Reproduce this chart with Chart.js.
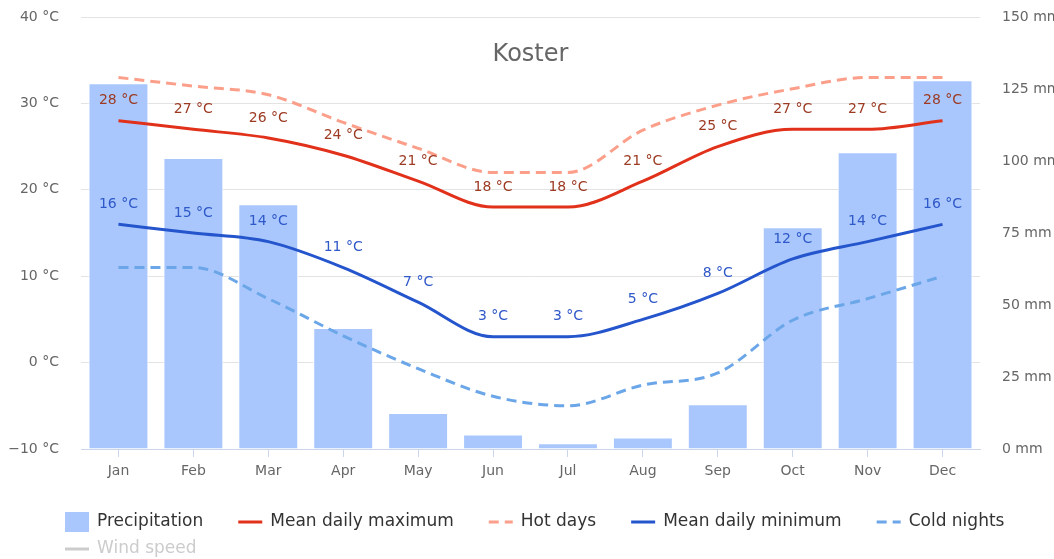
<!DOCTYPE html>
<html>
<head>
<meta charset="utf-8">
<script src="https://cdn.jsdelivr.net/npm/chart.js@4/dist/chart.umd.min.js"></script>
<style>
  html, body { margin: 0; padding: 0; background: #fff; }
  #wrap { width: 1054px; height: 559px; position: relative; }
</style>
</head>
<body>
<div id="wrap"><canvas id="canvas"></canvas></div>
<script>
var chartTitle = 'Koster';
var months = ['Jan', 'Feb', 'Mar', 'Apr', 'May', 'Jun', 'Jul', 'Aug', 'Sep', 'Oct', 'Nov', 'Dec'];
var precipitation = [127, 101, 85, 42, 12.5, 5, 2, 4, 15.5, 77, 103, 128];
var meanMax = [28, 27, 26, 24, 21, 18, 18, 21, 25, 27, 27, 28];
var hotDays = [33, 32, 31, 27.8, 24.8, 22, 22, 26.9, 29.8, 31.7, 33, 33];
var meanMin = [16, 15, 14, 11, 7, 3, 3, 5, 8, 12, 14, 16];
var coldNights = [11, 11, 7.4, 3.1, -0.7, -3.9, -5, -2.6, -1.2, 4.9, 7.4, 10];
var windSpeed = [];

var tempTicks = [-10, 0, 10, 20, 30, 40];
var rainTicks = [0, 25, 50, 75, 100, 125, 150];

Chart.defaults.font.family = 'DejaVu Sans';
Chart.defaults.color = '#666';

function degLabel(v) {
    return (v < 0 ? '\u2212' + Math.abs(v) : v) + ' \u00b0C';
}

// title sits inside the plot area, so draw it ourselves
var innerTitle = {
    id: 'innerTitle',
    afterDraw: function(chart) {
        var ctx = chart.ctx, a = chart.chartArea;
        ctx.save();
        ctx.font = '24px DejaVu Sans';
        ctx.fillStyle = '#666';
        ctx.textAlign = 'center';
        ctx.textBaseline = 'middle';
        ctx.fillText(chartTitle, (a.left + a.right) / 2, a.top + 38);
        ctx.restore();
    }
};

// values written above the two mean lines
var pointLabels = {
    id: 'pointLabels',
    afterDatasetsDraw: function(chart) {
        var ctx = chart.ctx;
        ctx.save();
        ctx.font = '14px DejaVu Sans';
        ctx.textAlign = 'center';
        ctx.textBaseline = 'middle';
        chart.data.datasets.forEach(function(ds, i) {
            if (!ds.labelColor) return;
            var meta = chart.getDatasetMeta(i);
            ctx.fillStyle = ds.labelColor;
            meta.data.forEach(function(pt, j) {
                ctx.fillText(degLabel(ds.data[j]), pt.x, pt.y - 20);
            });
        });
        ctx.restore();
    }
};

// legend laid out like the original: left aligned rows, wide gaps
var bottomLegend = {
    id: 'bottomLegend',
    afterDraw: function(chart) {
        var ctx = chart.ctx;
        var x = 65, y = 522;
        ctx.save();
        ctx.font = '17px DejaVu Sans';
        ctx.textBaseline = 'middle';
        ctx.textAlign = 'left';
        chart.data.datasets.forEach(function(ds) {
            var w = 24 + 8 + ctx.measureText(ds.label).width;
            if (x + w > chart.width - 10) { x = 65; y += 27; }
            var col = ds.hidden ? '#cccccc' : (ds.type === 'bar' ? ds.backgroundColor : ds.borderColor);
            if (ds.type === 'bar') {
                ctx.fillStyle = col;
                ctx.fillRect(x, y - 10, 24, 20);
            } else {
                ctx.strokeStyle = col;
                ctx.lineWidth = 3;
                ctx.setLineDash(ds.borderDash || []);
                ctx.beginPath();
                ctx.moveTo(x, y);
                ctx.lineTo(x + 24, y);
                ctx.stroke();
                ctx.setLineDash([]);
            }
            ctx.fillStyle = ds.hidden ? '#cccccc' : '#333333';
            ctx.fillText(ds.label, x + 32, y);
            x += w + 35;
        });
        ctx.restore();
    }
};

var config = {
    data: {
        labels: months,
        datasets: [{
            type: 'bar',
            label: 'Precipitation',
            data: precipitation,
            yAxisID: 'y1',
            backgroundColor: '#a9c7fd',
            borderColor: '#ffffff',
            borderWidth: 1,
            barPercentage: 0.8,
            categoryPercentage: 1,
            order: 10
        }, {
            type: 'line',
            label: 'Mean daily maximum',
            data: meanMax,
            yAxisID: 'y',
            borderColor: '#e2311a',
            borderWidth: 3,
            pointRadius: 0,
            cubicInterpolationMode: 'monotone',
            labelColor: '#9c3a22',
            order: 2
        }, {
            type: 'line',
            label: 'Hot days',
            data: hotDays,
            yAxisID: 'y',
            borderColor: '#fc9f8a',
            borderWidth: 3,
            borderDash: [10, 6],
            pointRadius: 0,
            cubicInterpolationMode: 'monotone',
            order: 3
        }, {
            type: 'line',
            label: 'Mean daily minimum',
            data: meanMin,
            yAxisID: 'y',
            borderColor: '#2455cc',
            borderWidth: 3,
            pointRadius: 0,
            cubicInterpolationMode: 'monotone',
            labelColor: '#2f58c8',
            order: 2
        }, {
            type: 'line',
            label: 'Cold nights',
            data: coldNights,
            yAxisID: 'y',
            borderColor: '#6ba6e8',
            borderWidth: 3,
            borderDash: [10, 6],
            pointRadius: 0,
            cubicInterpolationMode: 'monotone',
            order: 3
        }, {
            type: 'line',
            label: 'Wind speed',
            data: windSpeed,
            yAxisID: 'y',
            borderColor: '#cccccc',
            hidden: true
        }]
    },
    options: {
        responsive: true,
        maintainAspectRatio: false,
        animation: false,
        layout: { padding: { left: 0, right: 0, top: 17, bottom: 79 } },
        plugins: {
            legend: { display: false },
            tooltip: { enabled: false },
            title: { display: false }
        },
        scales: {
            x: {
                grid: {
                    offset: false,
                    drawOnChartArea: false,
                    drawTicks: true,
                    tickLength: 8,
                    color: '#ccd6eb'
                },
                border: { color: '#ccd6eb', width: 1 },
                ticks: { color: '#666', font: { size: 14 }, padding: 6 },
                afterFit: function(s) { s.height = 31; s.paddingLeft = 0; s.paddingRight = 0; }
            },
            y: {
                position: 'left',
                min: -10,
                max: 40,
                afterBuildTicks: function(s) { s.ticks = tempTicks.map(function(v) { return { value: v }; }); },
                grid: { color: '#e3e3e3', tickLength: 8, tickColor: 'rgba(0,0,0,0)' },
                border: { display: false },
                ticks: { color: '#666', font: { size: 14 }, padding: 14, callback: function(v) { return degLabel(v); } },
                afterFit: function(s) { s.width = 81; s.paddingTop = 0; s.paddingBottom = 0; }
            },
            y1: {
                position: 'right',
                min: 0,
                max: 150,
                afterBuildTicks: function(s) { s.ticks = rainTicks.map(function(v) { return { value: v }; }); },
                grid: { drawOnChartArea: false, tickLength: 8, tickColor: 'rgba(0,0,0,0)' },
                border: { display: false },
                ticks: { color: '#666', font: { size: 14 }, padding: 14, callback: function(v) { return v + ' mm'; } },
                afterFit: function(s) { s.width = 74; s.paddingTop = 0; s.paddingBottom = 0; }
            }
        }
    },
    plugins: [innerTitle, pointLabels, bottomLegend]
};

var ctx = document.getElementById('canvas').getContext('2d');
window.climateChart = new Chart(ctx, config);
</script>
</body>
</html>
